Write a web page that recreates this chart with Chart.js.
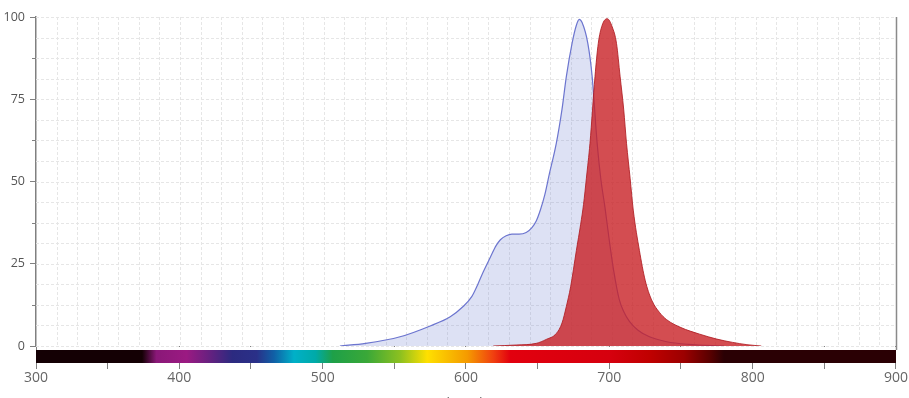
<!DOCTYPE html>
<html>
<head>
<meta charset="utf-8">
<script src="https://cdn.jsdelivr.net/npm/chart.js@4.4.1/dist/chart.umd.min.js"></script>
<style>
  html, body { margin: 0; padding: 0; background: #fff; overflow: hidden; }
  #wrap { position: relative; width: 909px; height: 421px; }
</style>
</head>
<body>
<div id="wrap"><canvas id="c"></canvas></div>
<script>
// Excitation (blue) spectrum
const exWavelengths = [512, 530, 554, 575, 589, 598, 604, 608, 612, 617, 621, 624, 628, 632, 637, 642, 646, 649, 652, 655, 658, 663, 667, 670, 674, 677, 679, 681, 685, 688, 691.5, 694, 697, 700, 703, 707, 710, 714, 720, 728, 740, 755, 780];
const exValues      = [0, 0.8, 2.8, 6.1, 8.9, 12, 15, 18.5, 22.5, 27, 30.5, 32.3, 33.5, 34, 34, 34.5, 36, 38, 41.5, 46, 52, 61.6, 72, 81.9, 92, 97.5, 99.3, 98.3, 92, 82, 61.6, 51, 42, 32, 23, 14, 10.5, 7.5, 4.8, 2.8, 1.3, 0.5, 0];
// Emission (red) spectrum
const emWavelengths = [619, 635, 649, 656, 663, 667, 670, 673, 677, 680, 682, 684, 686.5, 690, 692.3, 695, 698.5, 702, 705, 707.5, 710, 712, 714.5, 716.7, 721, 725, 729.5, 735, 740, 750, 763, 775, 786, 796, 806];
const emValues      = [0, 0.3, 0.8, 2, 3.8, 7, 12, 18, 29, 37, 43, 51, 61.6, 81.9, 92, 97.5, 99.5, 97, 92, 82, 72, 61.6, 51, 41.3, 29, 20, 14, 10.2, 8, 5.6, 3.6, 2.1, 1.1, 0.4, 0];
// Axis ticks
const xTickValues = [300, 400, 500, 600, 700, 800, 900];
const yTickValues = [0, 25, 50, 75, 100];
// Visible-spectrum colour bar stops
const spectrumNm     = [300, 374, 384, 405, 420, 437, 454, 466, 480, 495, 507, 531, 554, 573, 589, 601, 619, 631, 700, 728, 752, 770, 780, 900];
const spectrumColors = ['#140004', '#140004', '#8a1878', '#9b1a82', '#6a2080', '#2c2a80', '#2a3088', '#1060a6', '#00b0c8', '#00aaa8', '#1ea048', '#3aa838', '#8cc020', '#ffe000', '#f8b800', '#f59a00', '#f04010', '#e2000e', '#d6000e', '#c00000', '#9c0000', '#5a0000', '#2a0004', '#2a0004'];

const toPoints = (xs, ys) => xs.map((x, i) => ({ x: x, y: ys[i] }));

const decor = {
  id: 'decor',
  beforeDatasetsDraw(chart) {
    const { ctx, chartArea: a, scales } = chart;
    const ys = scales.y;
    const step = (a.bottom - a.top) / 16;
    ctx.save();
    ctx.strokeStyle = '#e6e6e6';
    ctx.lineWidth = 1;
    ctx.setLineDash([3, 2]);
    for (let x = a.left + step; x < a.right - 2; x += step) {
      const px = Math.round(x) + 0.5;
      ctx.beginPath(); ctx.moveTo(px, a.top); ctx.lineTo(px, a.bottom); ctx.stroke();
    }
    for (let v = 0; v <= 100.001; v += 6.25) {
      const py = Math.round(ys.getPixelForValue(v)) + 0.5;
      ctx.beginPath(); ctx.moveTo(a.left, py); ctx.lineTo(a.right, py); ctx.stroke();
    }
    ctx.restore();
  },
  afterDraw(chart) {
    const { ctx, chartArea: a, scales } = chart;
    const xs = scales.x, ys = scales.y;
    ctx.save();
    ctx.fillStyle = '#fff';
    ctx.fillRect(a.left + 1, a.bottom + 1, a.right - a.left - 1, 3);
    const x0 = xs.getPixelForValue(300), x1 = xs.getPixelForValue(900);
    const g = ctx.createLinearGradient(x0, 0, x1, 0);
    spectrumNm.forEach((nm, i) => g.addColorStop((nm - 300) / 600, spectrumColors[i]));
    ctx.fillStyle = g;
    ctx.fillRect(x0, a.bottom + 4, x1 - x0, 13);
    ctx.strokeStyle = '#8a8a8a';
    ctx.lineWidth = 1.5;
    ctx.beginPath(); ctx.moveTo(a.right + 0.5, a.top); ctx.lineTo(a.right + 0.5, a.bottom + 4); ctx.stroke();
    ctx.lineWidth = 1;
    ctx.strokeStyle = '#808080';
    for (let v = 12.5; v < 100; v += 25) {
      const py = Math.round(ys.getPixelForValue(v)) + 0.5;
      ctx.beginPath(); ctx.moveTo(a.left - 4, py); ctx.lineTo(a.left, py); ctx.stroke();
    }
    ctx.restore();
  }
};

new Chart(document.getElementById('c'), {
  type: 'line',
  data: {
    datasets: [
      {
        label: 'Excitation',
        data: toPoints(exWavelengths, exValues),
        borderColor: '#6c75cf',
        borderWidth: 1.2,
        backgroundColor: 'rgba(120,135,210,0.25)',
        fill: 'origin',
        pointRadius: 0,
        cubicInterpolationMode: 'monotone',
        order: 1
      },
      {
        label: 'Emission',
        data: toPoints(emWavelengths, emValues),
        borderColor: 'rgba(175,28,34,0.85)',
        borderWidth: 1,
        backgroundColor: 'rgba(200,32,38,0.8)',
        fill: 'origin',
        pointRadius: 0,
        cubicInterpolationMode: 'monotone',
        order: 0
      }
    ]
  },
  options: {
    responsive: true,
    maintainAspectRatio: false,
    animation: false,
    events: [],
    layout: { padding: { top: 17, right: 13, left: 0, bottom: 0 } },
    plugins: { legend: { display: false }, tooltip: { enabled: false } },
    scales: {
      x: {
        type: 'linear',
        min: 300, max: 900,
        afterBuildTicks: (s) => {
          const t = [];
          for (let v = 300; v <= 900; v += 50) t.push({ value: v });
          s.ticks = t;
        },
        afterFit: (s) => { s.height = 75; },
        border: { display: false },
        grid: { drawOnChartArea: false, drawTicks: true, tickLength: 23, tickColor: '#808080', tickWidth: 1 },
        ticks: {
          padding: 1,
          maxRotation: 0,
          autoSkip: false,
          color: '#666',
          font: { family: 'Open Sans', size: 14 },
          callback: (v) => (xTickValues.includes(v) ? String(v) : '')
        },
        title: {
          display: true,
          text: 'Wavelength (nm)',
          color: '#666',
          font: { family: 'Open Sans', size: 14 },
          padding: { top: 4, bottom: 9 }
        }
      },
      y: {
        min: 0, max: 100,
        afterBuildTicks: (s) => { s.ticks = yTickValues.map(v => ({ value: v })); },
        afterFit: (s) => { s.width = 36; },
        border: { display: true, color: '#808080', width: 1.5 },
        grid: { drawOnChartArea: false, drawTicks: true, tickLength: 6, tickColor: '#808080' },
        ticks: {
          padding: 5,
          color: '#555',
          font: { family: 'Open Sans', size: 12.5 }
        }
      }
    }
  },
  plugins: [decor]
});
</script>
</body>
</html>
